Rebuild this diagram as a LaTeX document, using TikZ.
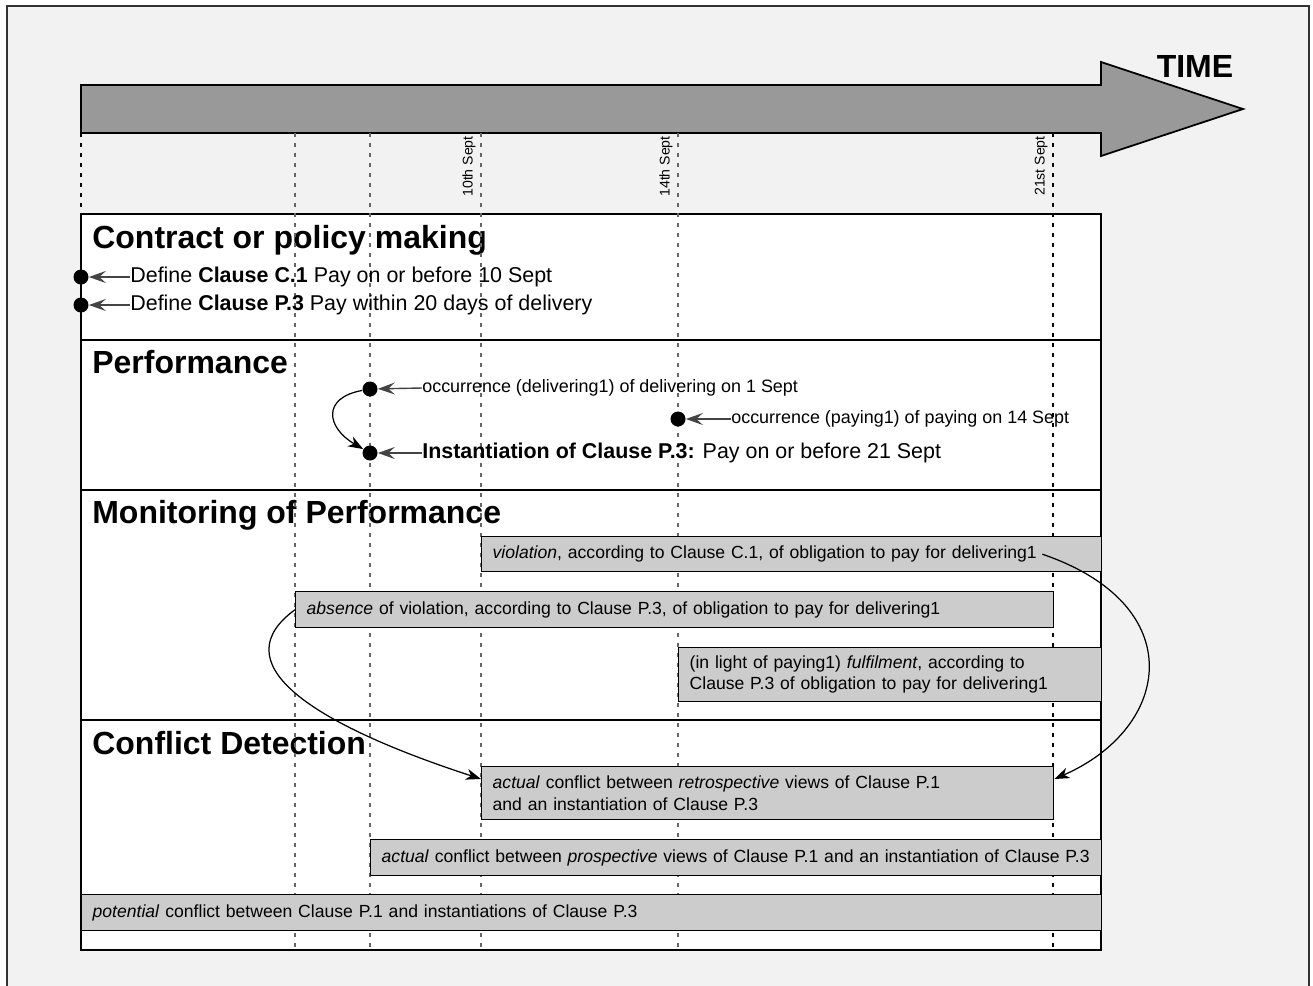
\documentclass[tikz,border=0pt]{standalone}
\usepackage{fontspec}
\setmainfont{Liberation Sans}
\usetikzlibrary{arrows.meta}
\definecolor{framebg}{HTML}{F2F2F2}
\definecolor{arrowfill}{HTML}{999999}
\definecolor{barfill}{HTML}{CCCCCC}
\definecolor{ptrgray}{HTML}{444444}
\definecolor{tickgray}{HTML}{666666}

\begin{document}
\begin{tikzpicture}[x=0.2mm, y=-0.2mm,
    sechead/.style={font=\fontsize{18.2}{22}\selectfont\bfseries, inner sep=0, anchor=base west},
    midtxt/.style={font=\fontsize{12.2}{14}\selectfont, inner sep=0, anchor=west},
    smalltxt/.style={font=\fontsize{10.2}{12}\selectfont, inner sep=0, anchor=west},
    datetxt/.style={font=\fontsize{8}{9}\selectfont, inner sep=0, rotate=90, anchor=south east},
    dayline/.style={dash pattern=on 0.8mm off 1.2mm, line width=0.6pt, draw=tickgray},
    evbar/.style={draw, line width=0.8pt, fill=barfill, anchor=north west, align=left,
                  font=\fontsize{10}{12}\selectfont, inner xsep=2.2mm, inner ysep=0},
    dot/.style={circle, fill=black, inner sep=0, minimum size=3mm},
    ptr/.style={draw=ptrgray, line width=0.8pt, -{Stealth[length=3.4mm, width=2.4mm, inset=1.3mm]}},
    curv/.style={line width=0.7pt, -{Stealth[length=3mm, width=2.2mm, inset=0.9mm]}}]
  \useasboundingbox (0,0) rectangle (1313,985);
  \draw[fill=framebg, draw=black!80, line width=1pt] (7,6) rectangle (1309,1000);

  % time arrow
  \draw[fill=arrowfill, line width=1pt] (81,85) -- (1101,85) -- (1101,62) -- (1243,109)
    -- (1101,156) -- (1101,133) -- (81,133) -- cycle;
  \node[font=\fontsize{18.2}{22}\selectfont\bfseries, anchor=base, inner sep=0] (time) at (1195,77) {TIME};

  % table and sections
  \draw[fill=white, line width=0.8pt] (81,214) rectangle (1101,950);
  \draw[line width=0.8pt] (81,340) -- (1101,340) (81,490) -- (1101,490) (81,720) -- (1101,720);
  \node[sechead] (hcontract) at (92,248) {Contract or policy making};
  \node[sechead] (hperf) at (92,373) {Performance};
  \node[sechead] (hmon) at (92,523) {Monitoring of Performance};
  \node[sechead] (hconf) at (92,754) {Conflict Detection};

  % days
  \draw[dayline, draw=black] (81,133) -- (81,214);
  \foreach \x in {295,370,481,678}
    \draw[dayline] (\x,133) -- (\x,950);
  \draw[dayline, draw=black] (1053,133) -- (1053,950);
  \node[datetxt] (d10) at (476,136) {10th Sept};
  \node[datetxt] (d14) at (673,136) {14th Sept};
  \node[datetxt] (d21) at (1048,136) {21st Sept};

  % contract or policy making
  \node[dot] (c1dot) at (81,277) {};
  \node[midtxt] (c1txt) at (130,277) {Define \textbf{Clause C.1} Pay on or before 10 Sept};
  \node[dot] (p3dot) at (81,305) {};
  \node[midtxt] (p3txt) at (130,305) {Define \textbf{Clause P.3} Pay within 20 days of delivery};
  \draw[ptr] (c1txt.west) -- (c1dot);
  \draw[ptr] (p3txt.west) -- (p3dot);

  % performance
  \node[dot] (deldot) at (370,389) {};
  \node[smalltxt] (deltxt) at (422,388) {occurrence (delivering1) of delivering on 1 Sept};
  \node[dot] (paydot) at (678,419) {};
  \node[smalltxt] (paytxt) at (731,419) {occurrence (paying1) of paying on 14 Sept};
  \node[dot] (instdot) at (370,453) {};
  \node[midtxt] (insttxt) at (422,453) {\textbf{Instantiation of Clause P.3:} Pay on or before 21 Sept};
  \draw[ptr] (deltxt.west) -- (deldot);
  \draw[ptr] (paytxt.west) -- (paydot);
  \draw[ptr] (insttxt.west) -- (instdot);
  \draw[curv] (deldot) .. controls +(-49,9) and +(-43,-25) .. (instdot);

  % monitoring of performance
  \node[evbar, minimum height=7mm, text width=119.6mm] (viol) at (481,536)
    {\textit{violation}, according to Clause C.1, of obligation to pay for delivering1};
  \node[evbar, minimum height=7.2mm, text width=147.2mm] (absence) at (295,591)
    {\textit{absence} of violation, according to Clause P.3, of obligation to pay for delivering1};
  \node[evbar, minimum height=10.8mm, text width=80.2mm] (fulfil) at (678,647)
    {(in light of paying1) \textit{fulfilment}, according to\\Clause P.3 of obligation to pay for delivering1};

  % conflict detection
  \node[evbar, minimum height=10.6mm, text width=110mm] (retro) at (481,766)
    {\textit{actual} conflict between \textit{retrospective} views of Clause P.1\\and an instantiation of Clause P.3};
  \node[evbar, minimum height=7.2mm, text width=141.8mm] (prosp) at (370,839)
    {\textit{actual} conflict between \textit{prospective} views of Clause P.1 and an instantiation of Clause P.3};
  \node[evbar, minimum height=7.2mm, text width=199.6mm] (potential) at (81,894)
    {\textit{potential} conflict between Clause P.1 and instantiations of Clause P.3};

  \draw[curv] ([xshift=-12mm]viol.east) .. controls +(149,51) and +(117,-51) .. ([yshift=-2.6mm]retro.north east);
  \draw[curv] (absence.west) .. controls +(-70,51) and +(-181,-59) .. ([yshift=-2.6mm]retro.north west);
\end{tikzpicture}
\end{document}
